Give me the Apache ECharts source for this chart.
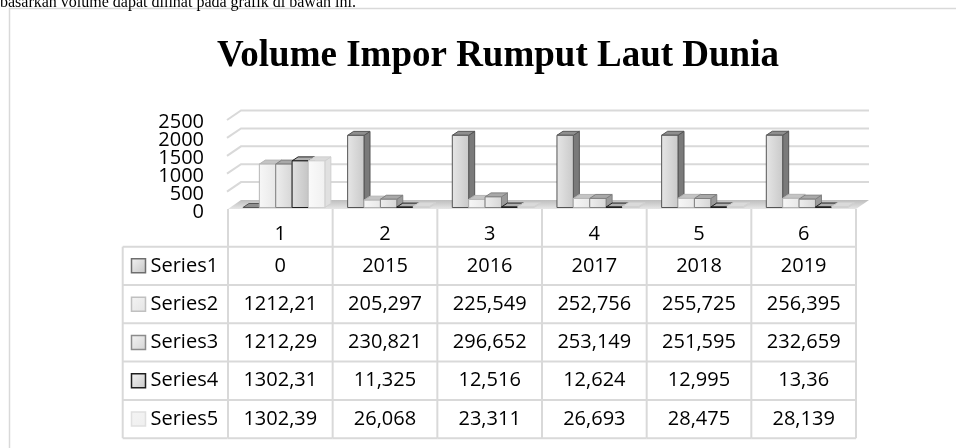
<!DOCTYPE html>
<html>
<head>
<meta charset="utf-8">
<script src="https://cdn.jsdelivr.net/npm/echarts@6/dist/echarts.min.js"></script>
<style>
html,body{margin:0;padding:0;background:#fff;}
#chart{width:956px;height:448px;}
</style>
</head>
<body>
<div id="chart"></div>
<script>
// ---- data ----
const categories = ['1', '2', '3', '4', '5', '6'];
const seriesNames = ['Series1', 'Series2', 'Series3', 'Series4', 'Series5'];
const series1 = [0, 2015, 2016, 2017, 2018, 2019];
const series2 = [1212.21, 205.297, 225.549, 252.756, 255.725, 256.395];
const series3 = [1212.29, 230.821, 296.652, 253.149, 251.595, 232.659];
const series4 = [1302.31, 11.325, 12.516, 12.624, 12.995, 13.36];
const series5 = [1302.39, 26.068, 23.311, 26.693, 28.475, 28.139];
const yTicks = [0, 500, 1000, 1500, 2000, 2500];
const yTickLabels = ['0', '500', '1000', '1500', '2000', '2500'];
const titleText = 'Volume Impor Rumput Laut Dunia';
const introText = 'basarkan volume dapat dilihat pada grafik di bawah ini.';

const allSeries = [series1, series2, series3, series4, series5];

// ---- styles ----
const barStyles = [
  {f1: '#e6e6e6', f2: '#c9c9c9', stroke: '#555555', top: '#8f8f8f', side: '#7a7a7a'},
  {f1: '#f7f7f7', f2: '#e8e8e8', stroke: '#b5b5b5', top: '#c4c4c4', side: '#cfcfcf'},
  {f1: '#eeeeee', f2: '#d6d6d6', stroke: '#808080', top: '#a8a8a8', side: '#9a9a9a'},
  {f1: '#e0e0e0', f2: '#c4c4c4', stroke: '#1e1e1e', top: '#b0b0b0', side: '#555555'},
  {f1: '#fafafa', f2: '#f0f0f0', stroke: '#d0d0d0', top: '#dadada', side: '#e0e0e0'}
];
const keyStyles = [
  {fill: '#c4c4c4', stroke: '#6e6e6e'},
  {fill: '#e4e4e4', stroke: '#c0c0c0'},
  {fill: '#d4d4d4', stroke: '#8c8c8c'},
  {fill: '#c8c8c8', stroke: '#1e1e1e'},
  {fill: '#efefef', stroke: '#e0e0e0'}
];
const FONT = 'Open Sans';
const LINE = '#d9d9d9';
const DX = 6, DY = -4;          // bar depth offset
const WX = 13, WY = -7.5;       // wall depth offset
const ROW_TOP = 246.7, ROW_H = 38.3, FLOOR_Y = 209;

function fmt(v) { return String(v).replace('.', ','); }

const chart = echarts.init(document.getElementById('chart'), null, {renderer: 'canvas'});

function barSeries(sIdx) {
  const st = barStyles[sIdx];
  return {
    type: 'custom',
    name: seriesNames[sIdx],
    z: 5 + sIdx,
    clip: false,
    data: allSeries[sIdx].map((v, i) => [i, v]),
    renderItem: function (params, api) {
      const cat = api.value(0), v = api.value(1);
      const base = api.coord([cat, 0]);
      const top = api.coord([cat, v]);
      const w = api.size([1, 0])[0];
      const bw = w * 0.1565;
      const x0 = base[0] - w / 2 + w * 0.143 + sIdx * bw;
      const x1 = x0 + bw;
      const yb = base[1], yt = top[1];
      return {
        type: 'group',
        children: [
          {type: 'polygon', shape: {points: [[x1, yb], [x1, yt], [x1 + DX, yt + DY], [x1 + DX, yb + DY]]},
           style: {fill: st.side, stroke: st.stroke, lineWidth: 1}},
          {type: 'polygon', shape: {points: [[x0, yt], [x1, yt], [x1 + DX, yt + DY], [x0 + DX, yt + DY]]},
           style: {fill: st.top, stroke: st.stroke, lineWidth: 1}},
          {type: 'rect', shape: {x: x0, y: yt, width: bw, height: yb - yt},
           style: {fill: {type: 'linear', x: 0, y: 0, x2: 1, y2: 0,
                          colorStops: [{offset: 0, color: st.f1}, {offset: 1, color: st.f2}]},
                   stroke: st.stroke, lineWidth: 1}}
        ]
      };
    }
  };
}

const wallSeries = {
  type: 'custom',
  z: 1,
  clip: false,
  data: yTicks.map((v, k) => [0, v, k]),
  renderItem: function (params, api) {
    const v = api.value(1);
    const k = api.value(2);
    const w = api.size([1, 0])[0];
    const p = api.coord([0, v]);
    const q = api.coord([categories.length - 1, v]);
    const L = p[0] - w / 2, R = q[0] + w / 2, y = p[1];
    const children = [];
    if (v === 0) {
      children.push({
        type: 'polygon',
        shape: {points: [[L, FLOOR_Y], [R, FLOOR_Y], [R + WX, y + WY], [L + WX, y + WY]]},
        style: {fill: {type: 'linear', x: 0, y: 0, x2: 0, y2: 1,
                       colorStops: [{offset: 0, color: '#bdbdbd'}, {offset: 1, color: '#e6e6e6'}]}}
      });
    } else {
      children.push({
        type: 'polyline',
        shape: {points: [[L - 1, y + 2], [L + WX, y + WY], [R + WX, y + WY]]},
        style: {stroke: LINE, lineWidth: 2, fill: null}
      });
    }
    children.push({type: 'text', x: L - 24, y: y + 4.5,
      style: {text: yTickLabels[k], fill: '#000', font: '20px "' + FONT + '"', align: 'right', verticalAlign: 'middle'}});
    return {type: 'group', children: children};
  }
};

const tableSeries = {
  type: 'custom',
  z: 20,
  clip: false,
  data: categories.map((c, i) => [i].concat(allSeries.map(s => s[i]))),
  renderItem: function (params, api) {
    const i = api.value(0);
    const w = api.size([1, 0])[0];
    const c = api.coord([i, 0]);
    const L = c[0] - w / 2, R = c[0] + w / 2;
    const bottom = ROW_TOP + ROW_H * seriesNames.length;
    const children = [];
    if (i === 0) {
      children.push({type: 'line', shape: {x1: L, y1: FLOOR_Y, x2: L, y2: bottom}, style: {stroke: LINE, lineWidth: 2}});
    }
    children.push({type: 'line', shape: {x1: R, y1: FLOOR_Y, x2: R, y2: bottom}, style: {stroke: LINE, lineWidth: 2}});
    for (let r = 0; r <= seriesNames.length; r++) {
      const y = ROW_TOP + r * ROW_H;
      children.push({type: 'line', shape: {x1: L, y1: y, x2: R, y2: y}, style: {stroke: LINE, lineWidth: 2}});
    }
    children.push({type: 'text', x: c[0], y: 234,
      style: {text: categories[i], fill: '#000', font: '20px "' + FONT + '"', align: 'center', verticalAlign: 'middle'}});
    for (let s = 0; s < seriesNames.length; s++) {
      const v = api.value(s + 1);
      children.push({type: 'text', x: c[0], y: ROW_TOP + (s + 0.5) * ROW_H,
        style: {text: fmt(v), fill: '#000', font: '20px "' + FONT + '"', align: 'center', verticalAlign: 'middle'}});
    }
    return {type: 'group', children: children};
  }
};

// label column & frame graphics
const graphics = [
  {type: 'rect', shape: {x: 9.5, y: 8.5, width: 1000, height: 500}, style: {fill: null, stroke: '#d9d9d9', lineWidth: 1.5}, z: 0},
  {type: 'text', x: 0, y: 10.5, style: {text: introText, fill: '#000', font: '16px "Liberation Serif"', align: 'left', verticalAlign: 'bottom'}}
];
const labL = 122.7, labR = 227.7;
graphics.push({type: 'line', shape: {x1: labL, y1: ROW_TOP, x2: labL, y2: ROW_TOP + ROW_H * seriesNames.length}, style: {stroke: LINE, lineWidth: 2}});
for (let r = 0; r <= seriesNames.length; r++) {
  const y = ROW_TOP + r * ROW_H;
  graphics.push({type: 'line', shape: {x1: labL, y1: y, x2: labR, y2: y}, style: {stroke: LINE, lineWidth: 2}});
}
seriesNames.forEach((n, s) => {
  const cy = ROW_TOP + (s + 0.5) * ROW_H;
  graphics.push({type: 'rect', shape: {x: 131.5, y: cy - 7, width: 14, height: 14},
    style: {fill: {type: 'linear', x: 0, y: 0, x2: 1, y2: 1, colorStops: [{offset: 0, color: '#f4f4f4'}, {offset: 1, color: keyStyles[s].fill}]},
            stroke: keyStyles[s].stroke, lineWidth: 1.5}});
  graphics.push({type: 'text', x: 150.5, y: cy,
    style: {text: n, fill: '#000', font: '20px "' + FONT + '"', align: 'left', verticalAlign: 'middle'}});
});

const option = {
  animation: false,
  backgroundColor: '#ffffff',
  title: {
    text: titleText,
    left: 212,
    top: 33,
    textStyle: {fontFamily: 'Liberation Serif', fontWeight: 'bold', fontSize: 37, color: '#000'}
  },
  grid: {left: 228, right: 100, top: 118, bottom: 240.5},
  xAxis: {
    type: 'category',
    data: categories,
    axisLine: {show: false}, axisTick: {show: false}, axisLabel: {show: false}, splitLine: {show: false}
  },
  yAxis: {
    type: 'value',
    min: 0, max: 2500, interval: 500,
    axisLine: {show: false}, axisTick: {show: false}, splitLine: {show: false},
    axisLabel: {show: false}
  },
  graphic: graphics,
  series: [wallSeries].concat(seriesNames.map((n, s) => barSeries(s))).concat([tableSeries])
};
chart.setOption(option);
</script>
</body>
</html>
